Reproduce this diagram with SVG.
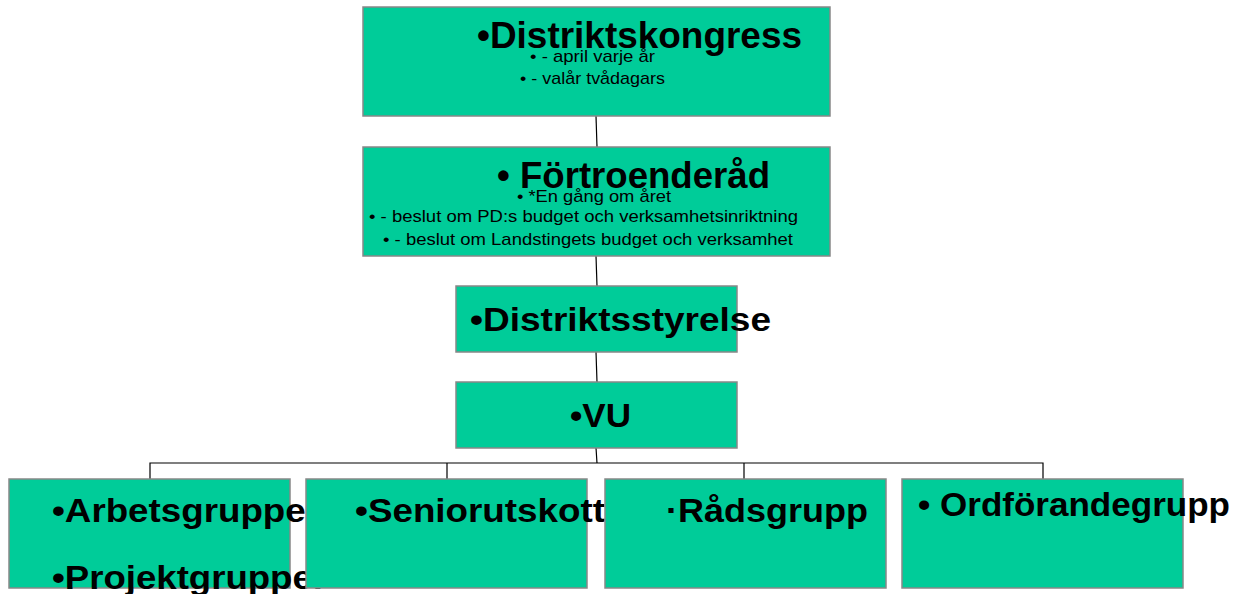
<svg xmlns="http://www.w3.org/2000/svg" width="1243" height="594" viewBox="0 0 1243 594">
<style>
.box{fill:#00CC99;stroke:#888888;stroke-width:1.5}
.big{font-family:"Liberation Sans",Arial,sans-serif;font-weight:bold;font-size:37px;fill:#000}
.mid{font-family:"Liberation Sans",Arial,sans-serif;font-weight:bold;font-size:34px;fill:#000}
.sm{font-family:"Liberation Sans",Arial,sans-serif;font-size:17px;fill:#000}
.ln{stroke:#000;stroke-width:1.2;fill:none}
</style>
<rect width="1243" height="594" fill="#fff"/>
<g id="connectors">
<line class="ln" x1="596" y1="116" x2="597" y2="147"/>
<line class="ln" x1="596" y1="256" x2="597" y2="286"/>
<line class="ln" x1="596" y1="352" x2="597" y2="382"/>
<line class="ln" x1="596" y1="448" x2="597" y2="463"/>
<polyline class="ln" points="150,479 150,463 1043,463 1043,479"/>
<line class="ln" x1="447" y1="463" x2="447" y2="479"/>
<line class="ln" x1="744" y1="463" x2="744" y2="479"/>
</g>
<g id="n1">
<rect class="box" x="363" y="7" width="467" height="109"/>
<text class="big" x="477" y="48" textLength="325" lengthAdjust="spacingAndGlyphs">•Distriktskongress</text>
<text class="sm" x="530" y="62" textLength="125" lengthAdjust="spacingAndGlyphs">• - april varje år</text>
<text class="sm" x="520" y="84" textLength="145" lengthAdjust="spacingAndGlyphs">• - valår tvådagars</text>
</g>
<g id="n2">
<rect class="box" x="363" y="147" width="467" height="109"/>
<text class="big" x="497" y="188" textLength="273" lengthAdjust="spacingAndGlyphs">• Förtroenderåd</text>
<text class="sm" x="517" y="202" textLength="154" lengthAdjust="spacingAndGlyphs">• *En gång om året</text>
<text class="sm" x="369" y="222" textLength="429" lengthAdjust="spacingAndGlyphs">• - beslut om PD:s budget och verksamhetsinriktning</text>
<text class="sm" x="383" y="245" textLength="410" lengthAdjust="spacingAndGlyphs">• - beslut om Landstingets budget och verksamhet</text>
</g>
<g id="n3">
<rect class="box" x="456" y="286" width="281" height="66"/>
<text class="mid" x="470" y="331" textLength="301" lengthAdjust="spacingAndGlyphs">•Distriktsstyrelse</text>
</g>
<g id="n4">
<rect class="box" x="456" y="382" width="281" height="66"/>
<text class="mid" x="570" y="427" textLength="61" lengthAdjust="spacingAndGlyphs">•VU</text>
</g>
<g id="n5">
<rect class="box" x="9" y="479" width="281" height="109"/>
<text class="mid" x="52" y="522" textLength="268" lengthAdjust="spacingAndGlyphs">•Arbetsgrupper</text>
<text class="mid" x="52" y="589" textLength="275" lengthAdjust="spacingAndGlyphs">•Projektgrupper</text>
</g>
<g id="n6">
<rect class="box" x="306" y="479" width="281" height="109"/>
<text class="mid" x="355" y="522" textLength="250" lengthAdjust="spacingAndGlyphs">•Seniorutskott</text>
</g>
<g id="n7">
<rect class="box" x="605" y="479" width="281" height="109"/>
<text class="mid" x="666" y="522" textLength="202" lengthAdjust="spacingAndGlyphs">·Rådsgrupp</text>
</g>
<g id="n8">
<rect class="box" x="902" y="479" width="281" height="109"/>
<text class="mid" x="918" y="516" textLength="312" lengthAdjust="spacingAndGlyphs">• Ordförandegrupp</text>
</g>
</svg>
